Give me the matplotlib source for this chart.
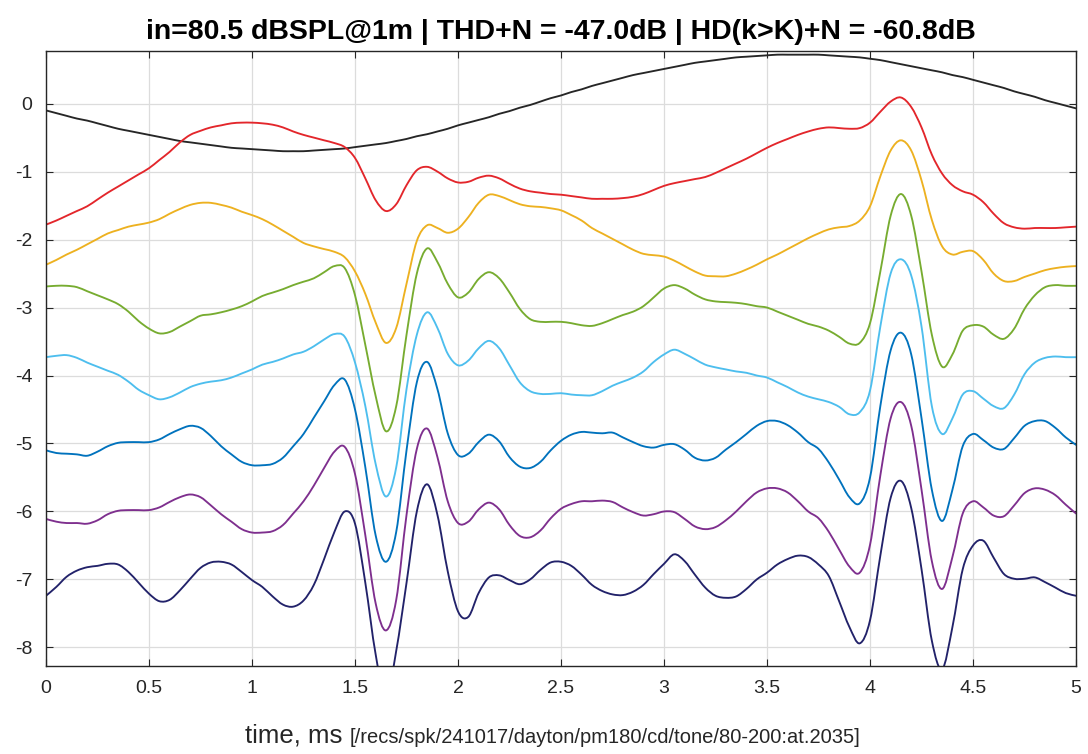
import numpy as np
import matplotlib
matplotlib.use("Agg")
import matplotlib.pyplot as plt
from matplotlib.path import Path
from matplotlib.patches import PathPatch

plt.rcParams['font.family'] = ['Liberation Sans', 'DejaVu Sans']

# time axis, ms (0.05 ms steps)
t = np.linspace(0, 5, 101)

# reference tone (scaled)
y_ref = [-0.10, -0.14, -0.18, -0.22, -0.25, -0.29, -0.33, -0.37, -0.40, -0.43,
         -0.46, -0.49, -0.52, -0.55, -0.57, -0.59, -0.61, -0.63, -0.65, -0.66,
         -0.67, -0.68, -0.69, -0.70, -0.70, -0.70, -0.69, -0.68, -0.67, -0.66,
         -0.64, -0.62, -0.60, -0.58, -0.55, -0.52, -0.48, -0.45, -0.41, -0.37,
         -0.32, -0.28, -0.24, -0.20, -0.15, -0.11, -0.06, -0.02, 0.03, 0.08,
         0.12, 0.17, 0.21, 0.26, 0.30, 0.34, 0.38, 0.42, 0.45, 0.48,
         0.51, 0.54, 0.57, 0.60, 0.62, 0.64, 0.66, 0.68, 0.69, 0.70,
         0.71, 0.72, 0.72, 0.72, 0.72, 0.72, 0.71, 0.70, 0.69, 0.68,
         0.66, 0.64, 0.61, 0.58, 0.55, 0.52, 0.49, 0.46, 0.42, 0.39,
         0.35, 0.31, 0.27, 0.23, 0.18, 0.14, 0.10, 0.05, 0.01, -0.03,
         -0.07]

y_h1 = [-1.78, -1.72, -1.65, -1.58, -1.51, -1.41, -1.31, -1.22, -1.13, -1.04,
        -0.95, -0.83, -0.71, -0.57, -0.46, -0.40, -0.35, -0.32, -0.29, -0.28,
        -0.28, -0.29, -0.31, -0.35, -0.41, -0.46, -0.50, -0.54, -0.58, -0.64,
        -0.80, -1.10, -1.42, -1.58, -1.48, -1.20, -0.98, -0.93, -1.00, -1.10,
        -1.16, -1.15, -1.09, -1.06, -1.10, -1.18, -1.25, -1.29, -1.31, -1.33,
        -1.34, -1.36, -1.38, -1.40, -1.40, -1.40, -1.39, -1.37, -1.33, -1.27,
        -1.21, -1.17, -1.14, -1.11, -1.08, -1.02, -0.95, -0.88, -0.81, -0.73,
        -0.65, -0.58, -0.52, -0.46, -0.41, -0.37, -0.35, -0.36, -0.37, -0.36,
        -0.28, -0.12, 0.03, 0.09, -0.05, -0.35, -0.75, -1.03, -1.20, -1.29,
        -1.34, -1.45, -1.62, -1.76, -1.82, -1.84, -1.83, -1.83, -1.83, -1.82,
        -1.81]

y_h2 = [-2.37, -2.30, -2.22, -2.15, -2.07, -1.99, -1.91, -1.86, -1.81, -1.78,
        -1.75, -1.70, -1.62, -1.55, -1.49, -1.46, -1.46, -1.49, -1.53, -1.59,
        -1.64, -1.70, -1.78, -1.87, -1.96, -2.05, -2.10, -2.14, -2.18, -2.26,
        -2.47, -2.80, -3.22, -3.52, -3.30, -2.65, -2.02, -1.79, -1.83, -1.90,
        -1.84, -1.67, -1.46, -1.34, -1.36, -1.42, -1.48, -1.51, -1.52, -1.54,
        -1.57, -1.64, -1.72, -1.83, -1.91, -1.99, -2.07, -2.15, -2.21, -2.23,
        -2.25, -2.31, -2.39, -2.47, -2.53, -2.54, -2.54, -2.50, -2.44, -2.37,
        -2.29, -2.22, -2.14, -2.06, -1.98, -1.91, -1.85, -1.82, -1.80, -1.72,
        -1.51, -1.07, -0.69, -0.54, -0.69, -1.13, -1.71, -2.10, -2.22, -2.18,
        -2.17, -2.30, -2.50, -2.61, -2.61, -2.55, -2.50, -2.45, -2.42, -2.40,
        -2.39]

y_h3 = [-2.69, -2.68, -2.68, -2.70, -2.76, -2.82, -2.88, -2.95, -3.06, -3.20,
        -3.31, -3.38, -3.36, -3.28, -3.20, -3.12, -3.10, -3.07, -3.03, -2.98,
        -2.91, -2.83, -2.78, -2.73, -2.67, -2.62, -2.57, -2.48, -2.39, -2.42,
        -2.82, -3.55, -4.30, -4.82, -4.45, -3.40, -2.50, -2.13, -2.33, -2.65,
        -2.85, -2.78, -2.58, -2.48, -2.57, -2.78, -3.02, -3.17, -3.21, -3.21,
        -3.21, -3.23, -3.26, -3.27, -3.23, -3.17, -3.11, -3.06, -2.98, -2.85,
        -2.72, -2.67, -2.72, -2.81, -2.88, -2.91, -2.92, -2.93, -2.95, -2.98,
        -3.00, -3.06, -3.12, -3.18, -3.24, -3.28, -3.34, -3.43, -3.53, -3.52,
        -3.23, -2.47, -1.65, -1.33, -1.65, -2.47, -3.40, -3.87, -3.69, -3.34,
        -3.26, -3.28, -3.40, -3.46, -3.31, -3.02, -2.82, -2.70, -2.67, -2.68,
        -2.68]

y_h4 = [-3.73, -3.71, -3.70, -3.74, -3.81, -3.87, -3.93, -3.99, -4.09, -4.21,
        -4.29, -4.35, -4.32, -4.25, -4.17, -4.12, -4.09, -4.07, -4.03, -3.97,
        -3.91, -3.84, -3.80, -3.75, -3.69, -3.65, -3.57, -3.47, -3.39, -3.43,
        -3.81, -4.45, -5.30, -5.78, -5.35, -4.20, -3.40, -3.07, -3.30, -3.68,
        -3.85, -3.78, -3.60, -3.49, -3.60, -3.85, -4.10, -4.23, -4.27, -4.27,
        -4.26, -4.28, -4.29, -4.29, -4.23, -4.15, -4.09, -4.03, -3.94, -3.80,
        -3.69, -3.62, -3.68, -3.76, -3.84, -3.88, -3.91, -3.94, -3.96, -4.00,
        -4.03, -4.10, -4.17, -4.25, -4.31, -4.35, -4.39, -4.46, -4.57, -4.54,
        -4.22, -3.28, -2.50, -2.29, -2.53, -3.28, -4.45, -4.86, -4.63, -4.28,
        -4.23, -4.34, -4.45, -4.48, -4.28, -3.98, -3.81, -3.74, -3.72, -3.73,
        -3.73]

y_h5 = [-5.10, -5.14, -5.15, -5.16, -5.18, -5.12, -5.04, -4.99, -4.98, -4.98,
        -4.98, -4.94, -4.86, -4.79, -4.74, -4.77, -4.89, -5.04, -5.16, -5.27,
        -5.32, -5.32, -5.30, -5.21, -5.04, -4.86, -4.62, -4.38, -4.14, -4.06,
        -4.50, -5.35, -6.35, -6.74, -6.30, -5.10, -4.10, -3.80, -4.20, -4.85,
        -5.17, -5.15, -4.98, -4.87, -4.97, -5.20, -5.34, -5.36, -5.27, -5.10,
        -4.96, -4.87, -4.83, -4.84, -4.85, -4.84, -4.91, -4.98, -5.04, -5.06,
        -5.02, -5.01, -5.09, -5.21, -5.25, -5.21, -5.09, -4.98, -4.86, -4.74,
        -4.67, -4.67, -4.73, -4.84, -4.98, -5.08, -5.28, -5.53, -5.79, -5.88,
        -5.50, -4.45, -3.63, -3.37, -3.69, -4.63, -5.68, -6.14, -5.68, -5.04,
        -4.86, -4.95, -5.06, -5.08, -4.92, -4.74, -4.67, -4.67, -4.77, -4.91,
        -5.02]

y_h6 = [-6.11, -6.15, -6.17, -6.17, -6.18, -6.13, -6.04, -5.99, -5.98, -5.98,
        -5.98, -5.94, -5.86, -5.79, -5.75, -5.79, -5.91, -6.04, -6.15, -6.26,
        -6.31, -6.31, -6.29, -6.20, -6.03, -5.85, -5.62, -5.36, -5.12, -5.05,
        -5.45, -6.35, -7.35, -7.75, -7.30, -6.05, -5.08, -4.78, -5.20, -5.85,
        -6.17, -6.15, -5.97, -5.87, -5.97, -6.20, -6.36, -6.38, -6.28, -6.10,
        -5.96, -5.89, -5.85, -5.85, -5.84, -5.86, -5.94, -6.01, -6.06, -6.04,
        -6.00, -6.01, -6.11, -6.22, -6.26, -6.23, -6.13, -6.00, -5.85, -5.72,
        -5.66, -5.66, -5.72, -5.85, -6.00, -6.10, -6.30, -6.56, -6.81, -6.90,
        -6.49, -5.47, -4.63, -4.39, -4.74, -5.68, -6.73, -7.14, -6.67, -6.03,
        -5.85, -5.94, -6.06, -6.07, -5.91, -5.73, -5.66, -5.68, -5.76, -5.90,
        -6.03]

y_h7 = [-7.24, -7.11, -6.96, -6.87, -6.82, -6.80, -6.77, -6.78, -6.89, -7.05,
        -7.21, -7.32, -7.30, -7.16, -6.99, -6.83, -6.75, -6.74, -6.78, -6.89,
        -7.01, -7.11, -7.25, -7.37, -7.40, -7.31, -7.08, -6.70, -6.30, -6.00,
        -6.18, -7.05, -8.10, -8.75, -8.05, -7.05, -6.00, -5.60, -6.05, -6.88,
        -7.47, -7.55, -7.20, -6.97, -6.94, -7.01, -7.07, -7.00, -6.86, -6.75,
        -6.74, -6.80, -6.93, -7.08, -7.17, -7.22, -7.23, -7.18, -7.08, -6.92,
        -6.77, -6.63, -6.73, -6.93, -7.12, -7.24, -7.27, -7.25, -7.14, -7.00,
        -6.90, -6.78, -6.70, -6.65, -6.67, -6.78, -6.95, -7.32, -7.70, -7.94,
        -7.60, -6.65, -5.80, -5.55, -5.95, -6.85, -7.90, -8.32, -7.70, -6.85,
        -6.50, -6.43, -6.68, -6.92, -6.99, -6.99, -6.97, -7.04, -7.12, -7.20,
        -7.24]

series = [y_ref, y_h1, y_h2, y_h3, y_h4, y_h5, y_h6, y_h7]
colors = ['#262626', '#E3262B', '#EDB120', '#77AC30', '#4DBEEE',
          '#0072BD', '#7E2F8E', '#22226A']

xticks = [0, 0.5, 1, 1.5, 2, 2.5, 3, 3.5, 4, 4.5, 5]
xticklabels = ['0', '0.5', '1', '1.5', '2', '2.5', '3', '3.5', '4', '4.5', '5']
yticks = [0, -1, -2, -3, -4, -5, -6, -7, -8]


def smooth_path(x, y):
    # cubic bezier through every sample (catmull-rom tangents)
    p = np.column_stack([x, np.asarray(y, float)])
    q = np.vstack([p[0], p, p[-1]])
    verts = [p[0]]
    for i in range(len(p) - 1):
        a, b, c, d = q[i], q[i + 1], q[i + 2], q[i + 3]
        verts += [b + (c - a) / 6.0, c - (d - b) / 6.0, c]
    codes = [Path.MOVETO] + [Path.CURVE4] * (len(verts) - 1)
    return Path(verts, codes)


fig = plt.figure(figsize=(10.88, 7.54), dpi=100)
ax = fig.add_axes([0.0423, 0.117, 0.9467, 0.815])

for y, c in zip(series, colors):
    ax.add_patch(PathPatch(smooth_path(t, y), facecolor='none',
                           edgecolor=c, lw=1.35, capstyle='round',
                           joinstyle='round'))

ax.set_xlim(0, 5)
ax.set_ylim(-8.27, 0.77)
ax.set_xticks(xticks)
ax.set_xticklabels(xticklabels)
ax.set_yticks(yticks)
ax.set_yticklabels([str(v) for v in yticks])
ax.grid(True, color='#dcdcdc', lw=0.9)
ax.set_axisbelow(True)
ax.tick_params(direction='in', length=5, width=0.8, colors='#262626',
               labelsize=14, top=True, right=True, pad=10)
for s in ax.spines.values():
    s.set_color('#262626')
    s.set_linewidth(1.0)

ax.set_title('in=80.5 dBSPL@1m | THD+N = -47.0dB | HD(k>K)+N = -60.8dB',
             fontsize=20.5, fontweight='bold', pad=9)

fig.text(0.315, 0.025, 'time, ms', ha='right', va='center',
         fontsize=18.5, color='#262626')
fig.text(0.321, 0.022, '[/recs/spk/241017/dayton/pm180/cd/tone/80-200:at.2035]',
         ha='left', va='center', fontsize=14.5, color='#262626')

fig.savefig('out.png', dpi=100)
